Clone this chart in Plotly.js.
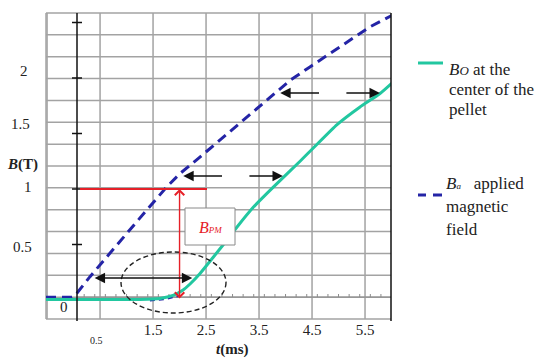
<!DOCTYPE html>
<html>
<head>
<meta charset="utf-8">
<script src="https://cdn.plot.ly/plotly-3.0.1.min.js"></script>
<style>html,body{margin:0;padding:0;background:#fff;}#chart{width:550px;height:361px;}</style>
</head>
<body>
<div id="chart"></div>
<script>
// ---- data ----
const tGreen = [-0.52, 1.255, 1.632, 1.877, 2.066, 2.198, 2.387, 2.632, 2.896, 3.085, 3.387, 3.764, 4.274, 4.557, 4.972, 5.406, 5.783, 6.104];
const bGreen = [0.005, 0.005, 0.014, 0.041, 0.09, 0.144, 0.239, 0.383, 0.541, 0.658, 0.833, 1.014, 1.25, 1.385, 1.58, 1.739, 1.86, 1.995];
const tBlue = [-0.52, -0.03, 0.06, 0.31, 0.63, 1.0, 1.38, 1.76, 2.01, 2.39, 3.05, 3.71, 4.09, 4.46, 4.84, 5.22, 5.59, 6.03];
const bBlue = [0.025, 0.025, 0.06, 0.21, 0.39, 0.6, 0.81, 1.02, 1.14, 1.29, 1.56, 1.83, 1.98, 2.1, 2.22, 2.34, 2.46, 2.57];
const tBlueLow = [1.44, 1.75, 2.01];
const bBlueLow = [-0.005, 0.01, 0.04];
const xTickVals = [-0.5, 0.5, 1.5, 2.5, 3.5, 4.5, 5.5];
const xTickText = ['', '', '1.5', '2.5', '3.5', '4.5', '5.5'];
const yLabels = ['2', '1.5', '1', '0.5', '0'];
const bAxisTicks = [0.5, 1, 1.5, 2, 2.5];
const bpmLevel = 1.0;
const bpmTime = 2.0;
const delayArrows = [ // [B level, t start (Ba), t end (Bo)]
  [0.198, 0.37, 2.24],
  [1.117, 2.07, 3.95],
  [1.865, 3.90, 5.78]
];

// ---- geometry helpers ----
const XR = [-0.52, 5.99], YR = [-0.1712, 2.5856];
const L = 46, R = 391, T = 13, Bm = 319, W = R - L, H = Bm - T;
const PX = x => (x - L) / W;
const PY = y => (Bm - y) / H;
const TX = x => XR[0] + (x - L) / W * (XR[1] - XR[0]);
const BY = y => YR[0] + (Bm - y) / H * (YR[1] - YR[0]);

const serif = '"Liberation Serif", "Times New Roman", serif';
const GREEN = '#22c7a0', BLUE = '#2424a6', RED = '#e62028', GRID = '#a3a3a3';

const traces = [
  {x: tBlueLow, y: bBlueLow, type: 'scatter', mode: 'lines', name: 'Ba (lower part)',
   line: {color: BLUE, width: 2, dash: '5px,4px'}, showlegend: false, hoverinfo: 'skip'},
  {x: tBlue, y: bBlue, type: 'scatter', mode: 'lines', name: 'Ba applied magnetic field',
   line: {color: BLUE, width: 3, dash: '10px,6px'}, cliponaxis: false, showlegend: false, hoverinfo: 'skip'},
  {x: tGreen, y: bGreen, type: 'scatter', mode: 'lines', name: 'Bo at the center of the pellet',
   line: {color: GREEN, width: 3, shape: 'spline', smoothing: 0.5}, cliponaxis: false, showlegend: false, hoverinfo: 'skip'}
];

const shapes = [];
const annotations = [];
// grid (vertical lines at the x tick values, 14 equal horizontal bands)
xTickVals.forEach(v => shapes.push({type: 'line', xref: 'x', yref: 'paper', x0: v, x1: v, y0: 0, y1: 1, line: {color: GRID, width: 1.5}, layer: 'below'}));
for (let k = 0; k <= 14; k++) {
  shapes.push({type: 'line', xref: 'paper', yref: 'paper', x0: 0, x1: 1, y0: k / 14, y1: k / 14, line: {color: GRID, width: 1.5}, layer: 'below'});
}
shapes.push({type: 'line', xref: 'paper', yref: 'paper', x0: 0, x1: 0, y0: 0, y1: 1, line: {color: GRID, width: 1.5}, layer: 'below'});
shapes.push({type: 'line', xref: 'paper', yref: 'paper', x0: 1, x1: 1, y0: PY(321), y1: 1, line: {color: '#111', width: 1.5}});
// zero level line with small ticks (every 0.2 ms)
const zeroY = BY(297);
shapes.push({type: 'line', xref: 'x', yref: 'y', x0: TX(77), x1: XR[1], y0: zeroY, y1: zeroY, line: {color: '#8c8c8c', width: 1}, layer: 'below'});
for (let k = 1; k <= 29; k++) {
  const tv = k * 0.2;
  shapes.push({type: 'line', xref: 'x', yref: 'y', x0: tv, x1: tv, y0: zeroY, y1: BY(294), line: {color: '#8c8c8c', width: 1}, layer: 'below'});
}
// black B axis at t ~ 0
const tAxis = TX(77);
shapes.push({type: 'line', xref: 'x', yref: 'paper', x0: tAxis, x1: tAxis, y0: PY(321), y1: 1, line: {color: '#111', width: 1.5}});
bAxisTicks.forEach(v => shapes.push({type: 'line', xref: 'x', yref: 'y', x0: TX(72), x1: TX(82), y0: v, y1: v, line: {color: '#111', width: 1.5}}));
// red B_PM lines
shapes.push({type: 'line', xref: 'x', yref: 'y', x0: TX(80), x1: TX(207), y0: bpmLevel, y1: bpmLevel, line: {color: RED, width: 2}});
annotations.push({xref: 'x', yref: 'y', axref: 'x', ayref: 'y', x: bpmTime, y: bpmLevel, ax: bpmTime, ay: 0.0, text: '',
  showarrow: true, arrowhead: 4, startarrowhead: 4, arrowside: 'end+start', arrowsize: 1.3, arrowwidth: 1.4, arrowcolor: RED});
// B_PM box
shapes.push({type: 'rect', xref: 'x', yref: 'y', x0: TX(185), x1: TX(235), y0: BY(245), y1: BY(208), fillcolor: '#fff', line: {color: '#8a8a8a', width: 1}});
annotations.push({xref: 'x', yref: 'y', x: TX(210), y: BY(227), xanchor: 'center', yanchor: 'middle', showarrow: false,
  text: '<i>B<span style="font-size:9px">PM</span></i>', font: {family: serif, size: 16, color: RED}});
// dashed ellipse
shapes.push({type: 'circle', xref: 'x', yref: 'y', x0: TX(121), x1: TX(226), y0: BY(313), y1: BY(252), line: {color: '#222', width: 1.4, dash: '5px,3px'}});
// delay arrows
delayArrows.forEach((a, i) => {
  const [lv, t0, t1] = a;
  const common = {xref: 'x', yref: 'y', axref: 'x', ayref: 'y', text: '', showarrow: true, arrowhead: 2, arrowsize: 1.6, arrowwidth: 1.3, arrowcolor: '#111'};
  if (i === 0) {
    annotations.push(Object.assign({x: t1, y: lv, ax: t0, ay: lv, arrowside: 'end+start', startarrowhead: 2}, common));
  } else {
    const mid = (t0 + t1) / 2 + 0.05, gap = 0.23;
    annotations.push(Object.assign({x: t0, y: lv, ax: mid - gap, ay: lv}, common));
    annotations.push(Object.assign({x: t1, y: lv, ax: mid + gap, ay: lv}, common));
  }
});

// axis texts
const txt = (s, x, y, size, extra) => Object.assign({xref: 'paper', yref: 'paper', x: PX(x), y: PY(y), text: s, showarrow: false,
  xanchor: 'center', yanchor: 'middle', font: {family: serif, size: size, color: '#222'}}, extra || {});
const ypos = [[24, 71], [20, 124], [28, 187], [22, 247], [64, 307]];
yLabels.forEach((s, i) => annotations.push(txt(s, ypos[i][0], ypos[i][1], 15)));
annotations.push(txt('<b><i>B</i>(T)</b>', 22, 164, 15));
annotations.push(txt('<b><i>t</i>(ms)</b>', 232, 349, 15));
annotations.push(txt('0.5', 96, 340, 10));

// legend (drawn by hand to match the layout)
shapes.push({type: 'line', xref: 'paper', yref: 'paper', x0: PX(418), x1: PX(443), y0: PY(63), y1: PY(63), line: {color: GREEN, width: 3}});
shapes.push({type: 'line', xref: 'paper', yref: 'paper', x0: PX(418), x1: PX(426), y0: PY(195), y1: PY(195), line: {color: BLUE, width: 3}});
shapes.push({type: 'line', xref: 'paper', yref: 'paper', x0: PX(433), x1: PX(442), y0: PY(195), y1: PY(195), line: {color: BLUE, width: 3}});
const legLines = [
  ['<i>B<span style="font-size:13px">O</span></i> at the', 447, 69],
  ['center of the', 447, 89],
  ['pellet', 447, 109],
  ['<i>B<span style="font-size:9px">a</span></i>   applied', 444, 183],
  ['magnetic', 444, 206],
  ['field', 444, 230]
];
legLines.forEach(l => annotations.push(txt(l[0], l[1], l[2], 17, {xanchor: 'left'})));

const layout = {
  width: 550, height: 361,
  margin: {l: L, r: 550 - R, t: T, b: 361 - Bm, pad: 0},
  paper_bgcolor: '#fff', plot_bgcolor: '#fff',
  showlegend: false,
  xaxis: {range: XR, tickmode: 'array', tickvals: xTickVals, ticktext: xTickText, showgrid: false,
    zeroline: false, showline: false, ticks: '', tickfont: {family: serif, size: 15, color: '#222'}, fixedrange: true},
  yaxis: {range: YR, showgrid: false, showticklabels: false, zeroline: false, showline: false, ticks: '', fixedrange: true},
  shapes: shapes,
  annotations: annotations
};

Plotly.newPlot('chart', traces, layout, {staticPlot: true, displayModeBar: false});
</script>
</body>
</html>
